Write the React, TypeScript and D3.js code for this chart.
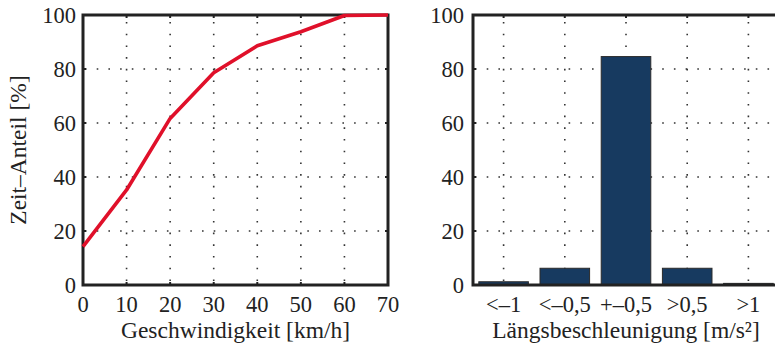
import * as d3 from "d3";

// left panel: cumulative time share over speed
const speeds = [0, 10, 20, 30, 40, 50, 60, 70];
const timeShare = [14.2, 35.2, 61.7, 78.6, 88.6, 93.8, 99.8, 100];

// right panel: share per longitudinal acceleration class
const accelClasses = ["<–1", "<–0,5", "+–0,5", ">0,5", ">1"];
const accelShare = [1.2, 6.2, 84.6, 6.2, 0.6];

const yTicks = [0, 20, 40, 60, 80, 100];

const W = 775;
const H = 345;
const FONT = "Liberation Serif, serif";
const AXIS = "#222";
const GRID_DASH = "1.6,10.1";

export default function App() {
  const top = 15;
  const bottom = 285;
  const y = d3.scaleLinear().domain([0, 100]).range([bottom, top]);

  const xL = d3.scaleLinear().domain([0, 70]).range([83, 388]);
  const xR = d3
    .scaleBand<string>()
    .domain(accelClasses)
    .range([473, 779])
    .paddingInner(0.19)
    .paddingOuter(0.095);

  const line = d3
    .line<number>()
    .x((_, i) => xL(speeds[i]))
    .y((d) => y(d));

  const innerY = yTicks.filter((t) => t > 0 && t < 100);
  const tick = 3;
  const tickSize = 22.5;
  const titleSize = 23.5;

  return (
    <svg
      width={W}
      height={H}
      viewBox={`0 0 ${W} ${H}`}
      style={{ position: "absolute", left: 0, top: 0, background: "#fff", fontFamily: FONT }}
    >
      {/* ---------- left panel ---------- */}
      <g>
        {innerY.map((t) => (
          <line
            key={"lh" + t}
            x1={xL(0)}
            x2={xL(70)}
            y1={y(t)}
            y2={y(t)}
            stroke="#333"
            strokeWidth={1.6}
            strokeDasharray={GRID_DASH}
            strokeDashoffset={-2}
          />
        ))}
        {speeds.slice(1, -1).map((s) => (
          <line
            key={"lv" + s}
            x1={xL(s)}
            x2={xL(s)}
            y1={top}
            y2={bottom}
            stroke="#333"
            strokeWidth={1.6}
            strokeDasharray={GRID_DASH}
            strokeDashoffset={-7}
          />
        ))}
        {/* inward ticks */}
        {speeds.slice(1, -1).map((s) => (
          <g key={"lt" + s} stroke={AXIS} strokeWidth={2}>
            <line x1={xL(s)} x2={xL(s)} y1={bottom} y2={bottom - tick} />
            <line x1={xL(s)} x2={xL(s)} y1={top} y2={top + tick} />
          </g>
        ))}
        {innerY.map((t) => (
          <g key={"ly" + t} stroke={AXIS} strokeWidth={2}>
            <line x1={xL(0)} x2={xL(0) + tick} y1={y(t)} y2={y(t)} />
            <line x1={xL(70)} x2={xL(70) - tick} y1={y(t)} y2={y(t)} />
          </g>
        ))}
        <rect
          x={xL(0)}
          y={top}
          width={xL(70) - xL(0)}
          height={bottom - top}
          fill="none"
          stroke={AXIS}
          strokeWidth={3}
        />
        <path
          d={line(timeShare) ?? ""}
          fill="none"
          stroke="#e0102a"
          strokeWidth={3.6}
          strokeLinejoin="round"
        />
        {yTicks.map((t) => (
          <text
            key={"lyl" + t}
            x={xL(0) - 7}
            y={y(t) + 7.5}
            textAnchor="end"
            fontSize={tickSize}
            fill="#222"
          >
            {t}
          </text>
        ))}
        {speeds.map((s) => (
          <text
            key={"lxl" + s}
            x={xL(s)}
            y={312}
            textAnchor="middle"
            fontSize={tickSize}
            fill="#222"
          >
            {s}
          </text>
        ))}
        <text
          x={(xL(0) + xL(70)) / 2}
          y={338}
          textAnchor="middle"
          fontSize={titleSize}
          fill="#222"
        >
          Geschwindigkeit [km/h]
        </text>
        <text
          transform={`translate(26,${(top + bottom) / 2}) rotate(-90)`}
          textAnchor="middle"
          fontSize={titleSize}
          fill="#222"
        >
          Zeit–Anteil [%]
        </text>
      </g>

      {/* ---------- right panel ---------- */}
      <g>
        {innerY.map((t) => (
          <line
            key={"rh" + t}
            x1={473}
            x2={779}
            y1={y(t)}
            y2={y(t)}
            stroke="#333"
            strokeWidth={1.6}
            strokeDasharray={GRID_DASH}
            strokeDashoffset={-2}
          />
        ))}
        {accelClasses.map((c) => {
          const cx = (xR(c) ?? 0) + xR.bandwidth() / 2;
          return (
            <g key={"rv" + c}>
              <line
                x1={cx}
                x2={cx}
                y1={top}
                y2={bottom}
                stroke="#333"
                strokeWidth={1.6}
                strokeDasharray={GRID_DASH}
                strokeDashoffset={-7}
              />
              <line x1={cx} x2={cx} y1={top} y2={top + tick} stroke={AXIS} strokeWidth={2} />
            </g>
          );
        })}
        {innerY.map((t) => (
          <line
            key={"ry" + t}
            x1={473}
            x2={473 + tick}
            y1={y(t)}
            y2={y(t)}
            stroke={AXIS}
            strokeWidth={2}
          />
        ))}
        {accelClasses.map((c, i) => (
          <rect
            key={"bar" + c}
            x={xR(c)}
            y={y(accelShare[i])}
            width={xR.bandwidth()}
            height={y(0) - y(accelShare[i])}
            fill="#173a60"
            stroke="#2a2a2a"
            strokeWidth={1}
          />
        ))}
        <rect
          x={473}
          y={top}
          width={779 - 473}
          height={bottom - top}
          fill="none"
          stroke={AXIS}
          strokeWidth={3}
        />
        {yTicks.map((t) => (
          <text
            key={"ryl" + t}
            x={473 - 9}
            y={y(t) + 7.5}
            textAnchor="end"
            fontSize={tickSize}
            fill="#222"
          >
            {t}
          </text>
        ))}
        {accelClasses.map((c) => (
          <text
            key={"rxl" + c}
            x={(xR(c) ?? 0) + xR.bandwidth() / 2}
            y={312}
            textAnchor="middle"
            fontSize={tickSize}
            fill="#222"
          >
            {c}
          </text>
        ))}
        <text x={626} y={338} textAnchor="middle" fontSize={titleSize} fill="#222">
          Längsbeschleunigung [m/s²]
        </text>
      </g>
    </svg>
  );
}
